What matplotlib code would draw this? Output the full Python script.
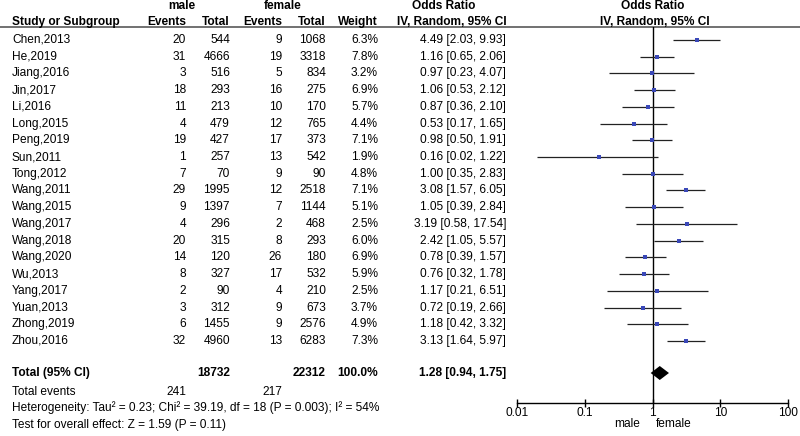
import numpy as np
import matplotlib
matplotlib.use('Agg')
import matplotlib.pyplot as plt

plt.rcParams['font.family'] = ['Liberation Sans', 'DejaVu Sans']

studies = ['Chen,2013', 'He,2019', 'Jiang,2016', 'Jin,2017', 'Li,2016', 'Long,2015',
           'Peng,2019', 'Sun,2011', 'Tong,2012', 'Wang,2011', 'Wang,2015', 'Wang,2017',
           'Wang,2018', 'Wang,2020', 'Wu,2013', 'Yang,2017', 'Yuan,2013', 'Zhong,2019',
           'Zhou,2016']
male_events = [20, 31, 3, 18, 11, 4, 19, 1, 7, 29, 9, 4, 20, 14, 8, 2, 3, 6, 32]
male_total = [544, 4666, 516, 293, 213, 479, 427, 257, 70, 1995, 1397, 296, 315, 120,
              327, 90, 312, 1455, 4960]
female_events = [9, 19, 5, 16, 10, 12, 17, 13, 9, 12, 7, 2, 8, 26, 17, 4, 9, 9, 13]
female_total = [1068, 3318, 834, 275, 170, 765, 373, 542, 90, 2518, 1144, 468, 293, 180,
                532, 210, 673, 2576, 6283]
weight = [6.3, 7.8, 3.2, 6.9, 5.7, 4.4, 7.1, 1.9, 4.8, 7.1, 5.1, 2.5, 6.0, 6.9, 5.9,
          2.5, 3.7, 4.9, 7.3]
odds = [4.49, 1.16, 0.97, 1.06, 0.87, 0.53, 0.98, 0.16, 1.00, 3.08, 1.05, 3.19, 2.42,
        0.78, 0.76, 1.17, 0.72, 1.18, 3.13]
ci_lo = [2.03, 0.65, 0.23, 0.53, 0.36, 0.17, 0.50, 0.02, 0.35, 1.57, 0.39, 0.58, 1.05,
         0.39, 0.32, 0.21, 0.19, 0.42, 1.64]
ci_hi = [9.93, 2.06, 4.07, 2.12, 2.10, 1.65, 1.91, 1.22, 2.83, 6.05, 2.84, 17.54, 5.57,
         1.57, 1.78, 6.51, 2.66, 3.32, 5.97]

total_male, total_female = 18732, 22312
events_male, events_female = 241, 217
pooled, pooled_lo, pooled_hi = 1.28, 0.94, 1.75
xticks = [0.01, 0.1, 1, 10, 100]
xticklabels = ['0.01', '0.1', '1', '10', '100']

W, H = 800, 436
fig = plt.figure(figsize=(W / 100, H / 100), dpi=100)
bg = fig.add_axes([0, 0, 1, 1])
bg.set_xlim(0, W); bg.set_ylim(H, 0); bg.axis('off')

FS = 8.6
row0, dy = 40, 16.72
rows_y = row0 + dy * np.arange(len(studies))
y_total, y_events, y_het, y_test = 373, 391.5, 408, 425

# column right edges (px)
c_me, c_mt, c_fe, c_ft, c_w, c_or = 186, 230, 282, 326, 378, 506
x_study = 12

# headers
bg.text(182, 6, 'male', fontsize=FS, fontweight='bold', ha='center', va='center')
bg.text(283, 6, 'female', fontsize=FS, fontweight='bold', ha='center', va='center')
bg.text(444, 6, 'Odds Ratio', fontsize=FS, fontweight='bold', ha='center', va='center')
bg.text(653, 6, 'Odds Ratio', fontsize=FS, fontweight='bold', ha='center', va='center')
hy = 22
bg.text(x_study, hy, 'Study or Subgroup', fontsize=FS, fontweight='bold', ha='left', va='center')
for x, s in [(c_me, 'Events'), (c_mt, 'Total'), (c_fe, 'Events'), (c_ft, 'Total'),
             (c_w, 'Weight')]:
    bg.text(x, hy, s, fontsize=FS, fontweight='bold', ha='right', va='center')
bg.text(452, hy, 'IV, Random, 95% CI', fontsize=FS, fontweight='bold', ha='center', va='center')
bg.text(655, hy, 'IV, Random, 95% CI', fontsize=FS, fontweight='bold', ha='center', va='center')
bg.plot([0, W], [27.5, 27.5], color='#666666', lw=1.3)

# study rows
for i, y in enumerate(rows_y):
    bg.text(x_study, y, studies[i], fontsize=FS, ha='left', va='center')
    bg.text(c_me, y, str(male_events[i]), fontsize=FS, ha='right', va='center')
    bg.text(c_mt, y, str(male_total[i]), fontsize=FS, ha='right', va='center')
    bg.text(c_fe, y, str(female_events[i]), fontsize=FS, ha='right', va='center')
    bg.text(c_ft, y, str(female_total[i]), fontsize=FS, ha='right', va='center')
    bg.text(c_w, y, f'{weight[i]:.1f}%', fontsize=FS, ha='right', va='center')
    bg.text(c_or, y, f'{odds[i]:.2f} [{ci_lo[i]:.2f}, {ci_hi[i]:.2f}]', fontsize=FS,
            ha='right', va='center')

# totals
bg.text(x_study, y_total, 'Total (95% CI)', fontsize=FS, fontweight='bold', ha='left', va='center')
bg.text(c_mt, y_total, str(total_male), fontsize=FS, fontweight='bold', ha='right', va='center')
bg.text(c_ft, y_total, str(total_female), fontsize=FS, fontweight='bold', ha='right', va='center')
bg.text(c_w, y_total, f'{sum(weight):.1f}%', fontsize=FS, fontweight='bold', ha='right', va='center')
bg.text(c_or, y_total, f'{pooled:.2f} [{pooled_lo:.2f}, {pooled_hi:.2f}]', fontsize=FS,
        fontweight='bold', ha='right', va='center')
bg.text(x_study, y_events, 'Total events', fontsize=FS, ha='left', va='center')
bg.text(c_me, y_events, str(events_male), fontsize=FS, ha='right', va='center')
bg.text(c_fe, y_events, str(events_female), fontsize=FS, ha='right', va='center')
bg.text(x_study, y_het, 'Heterogeneity: Tau² = 0.23; Chi² = 39.19, df = 18 (P = 0.003); I² = 54%',
        fontsize=FS, ha='left', va='center')
bg.text(x_study, y_test, 'Test for overall effect: Z = 1.59 (P = 0.11)', fontsize=FS,
        ha='left', va='center')

# forest panel: x 517..788 px, y 27..403 px
x0, x1, ytop, ybot = 517, 788, 27.5, 403
ax = fig.add_axes([x0 / W, 1 - ybot / H, (x1 - x0) / W, (ybot - ytop) / H])
ax.set_xscale('log')
ax.set_xlim(0.01, 100)
ax.set_ylim(ybot, ytop)
ax.patch.set_alpha(0)
for s in ['top', 'left', 'right']:
    ax.spines[s].set_visible(False)
ax.spines['bottom'].set_linewidth(1.0)
ax.set_yticks([])
ax.set_xticks(xticks)
ax.set_xticklabels(xticklabels)
ax.minorticks_off()
ax.tick_params(axis='x', direction='inout', length=6, width=1.0, labelsize=FS, pad=0)

ax.axvline(1, color='black', lw=1.0)
for i, y in enumerate(rows_y):
    ax.plot([ci_lo[i], ci_hi[i]], [y, y], color='#222222', lw=0.9, solid_capstyle='butt')
    ax.plot(odds[i], y, marker='s', color='#3a48b8', ms=2.3 + 0.12 * weight[i], mew=0)

# pooled diamond
ax.fill([pooled_lo, pooled, pooled_hi, pooled], [y_total, y_total - 7, y_total, y_total + 7],
        color='black', lw=0)

bg.text(627, 424, 'male', fontsize=FS, ha='center', va='center')
bg.text(674, 424, 'female', fontsize=FS, ha='center', va='center')

fig.savefig('out.png', dpi=100)
